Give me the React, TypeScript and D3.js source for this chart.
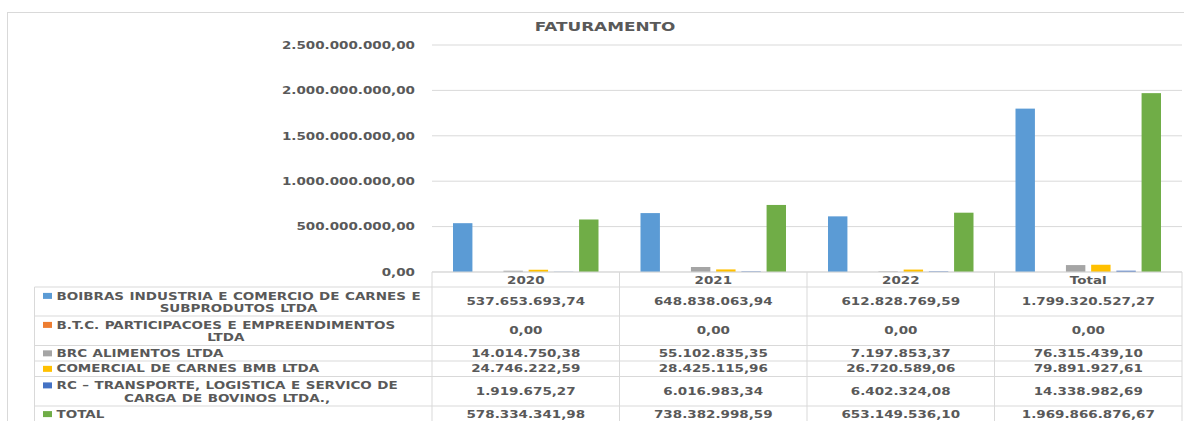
import { useLayoutEffect, useRef, useState } from "react";
import * as d3 from "d3";

const categories = ["2020", "2021", "2022", "Total"];

const seriesNames = [
  ["BOIBRAS INDUSTRIA E COMERCIO DE CARNES E", "SUBPRODUTOS LTDA"],
  ["B.T.C. PARTICIPACOES E EMPREENDIMENTOS", "LTDA"],
  ["BRC ALIMENTOS LTDA"],
  ["COMERCIAL DE CARNES BMB LTDA"],
  ["RC – TRANSPORTE, LOGISTICA E SERVICO DE", "CARGA DE BOVINOS LTDA.,"],
  ["TOTAL"],
];

const boibras = [537653693.74, 648838063.94, 612828769.59, 1799320527.27];
const btc = [0, 0, 0, 0];
const brc = [14014750.38, 55102835.35, 7197853.37, 76315439.1];
const comercial = [24746222.59, 28425115.96, 26720589.06, 79891927.61];
const rc = [1919675.27, 6016983.34, 6402324.08, 14338982.69];
const total = [578334341.98, 738382998.59, 653149536.1, 1969866876.67];

const yTicks = [0, 500000000, 1000000000, 1500000000, 2000000000, 2500000000];

const seriesValues = [boibras, btc, brc, comercial, rc, total];
const colors = ["#5B9BD5", "#ED7D31", "#A5A5A5", "#FFC000", "#4472C4", "#70AD47"];

const W = 1184;
const H = 421;
const SX = 1.35; // horizontal stretch of the source text
const FONT = "'DejaVu Sans', Verdana, sans-serif";
const TEXT = "#595959";
const LINE = "#D9D9D9";

const brl = d3.formatLocale({
  decimal: ",",
  thousands: ".",
  grouping: [3],
  currency: ["R$", ""],
}).format(",.2f");

function T({ x, y, anchor = "start", size = 10, children }: any) {
  return (
    <text
      transform={`translate(${x},${y}) scale(${SX},1)`}
      textAnchor={anchor}
      fontFamily={FONT}
      fontWeight="bold"
      fontSize={size}
      fill={TEXT}
    >
      {children}
    </text>
  );
}

function RowLabel({ lines, x, y }: { lines: string[]; x: number; y: number }) {
  const ref = useRef<SVGTextElement>(null);
  const [w, setW] = useState(0);
  useLayoutEffect(() => {
    if (ref.current) setW(ref.current.getBBox().width);
  }, []);
  return (
    <g
      transform={`translate(${x},${y}) scale(${SX},1)`}
      fontFamily={FONT}
      fontWeight="bold"
      fontSize={10}
      fill={TEXT}
      wordSpacing={0.6}
    >
      <text ref={ref}>{lines[0]}</text>
      {lines[1] && (
        <text x={w / 2} y={12.7} textAnchor="middle">
          {lines[1]}
        </text>
      )}
    </g>
  );
}

export default function App() {
  const plotLeft = 432;
  const plotRight = 1182;
  const x0 = d3.scaleBand().domain(categories).range([plotLeft, plotRight]);
  const x1 = d3
    .scaleBand()
    .domain(d3.range(seriesValues.length).map(String))
    .range([21, x0.bandwidth() - 21])
    .paddingInner(0.23);
  const y = d3.scaleLinear().domain([0, 2500000000]).range([272, 45]);

  // table rows: [top, bottom]
  const rowTops = [287, 316, 345.5, 361, 376.5, 406];
  const rowBottoms = [316, 345.5, 361, 376.5, 406, 422];
  const tableLeft = 34.5;

  return (
    <svg width={W} height={H} style={{ position: "absolute", left: 0, top: 0, background: "#fff" }}>
      <rect x={7.5} y={12.5} width={W} height={H} fill="#fff" stroke={LINE} />

      <T x={605} y={30.5} anchor="middle" size={12.5}>
        FATURAMENTO
      </T>

      {yTicks.map((t) => (
        <g key={t}>
          <line x1={plotLeft} x2={plotRight} y1={y(t)} y2={y(t)} stroke={LINE} strokeWidth={1} />
          <T x={415} y={y(t) + 3.7} anchor="end">
            {brl(t)}
          </T>
        </g>
      ))}

      {categories.map((c, ci) =>
        seriesValues.map((vals, si) => (
          <rect
            key={c + si}
            x={x0(c)! + x1(String(si))!}
            y={y(vals[ci])}
            width={x1.bandwidth()}
            height={y(0) - y(vals[ci])}
            fill={colors[si]}
          />
        ))
      )}

      {/* data table */}
      <line x1={plotLeft} x2={plotRight} y1={272} y2={272} stroke={LINE} />
      {rowTops.map((t, i) => (
        <line key={"h" + i} x1={tableLeft} x2={plotRight} y1={t} y2={t} stroke={LINE} />
      ))}
      <line x1={tableLeft} x2={tableLeft} y1={287} y2={H} stroke={LINE} />
      {[...categories.map((c) => x0(c)!), plotRight].map((xv, i) => (
        <line key={"v" + i} x1={xv} x2={xv} y1={272} y2={H} stroke={LINE} />
      ))}

      {categories.map((c) => (
        <T key={c} x={x0(c)! + x0.bandwidth() / 2} y={283.7} anchor="middle">
          {c}
        </T>
      ))}

      {seriesNames.map((lines, si) => {
        const top = rowTops[si];
        const mid = (top + rowBottoms[si]) / 2;
        const firstBase = lines.length > 1 ? top + 12.5 : mid + 3.7;
        return (
          <g key={"r" + si}>
            <rect x={43} y={firstBase - 6.6} width={9} height={6} fill={colors[si]} />
            <RowLabel lines={lines} x={56.5} y={firstBase} />
            {categories.map((c, ci) => (
              <T key={c} x={x0(c)! + x0.bandwidth() / 2} y={mid + 3.7} anchor="middle">
                {brl(seriesValues[si][ci])}
              </T>
            ))}
          </g>
        );
      })}
    </svg>
  );
}
